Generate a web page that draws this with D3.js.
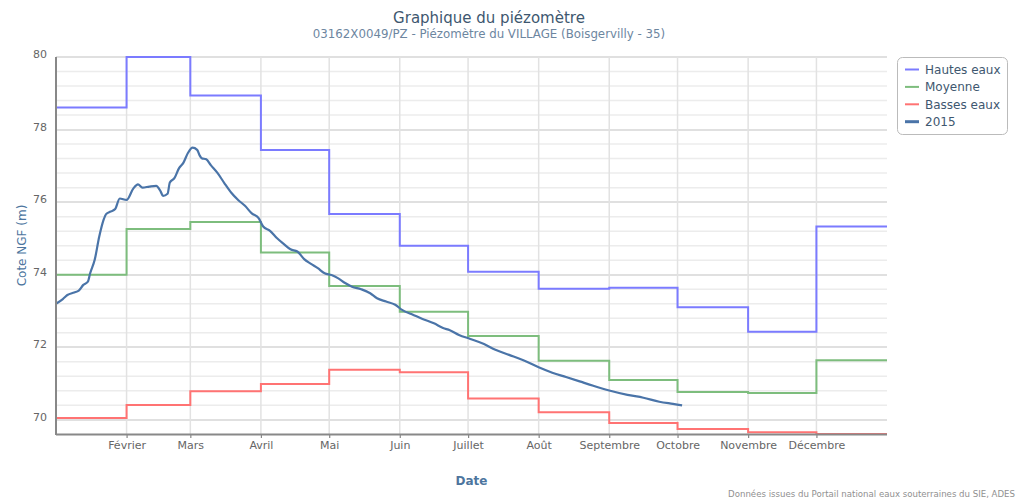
<!DOCTYPE html>
<html><head><meta charset="utf-8">
<script src="https://cdn.jsdelivr.net/npm/d3@7"></script>
<style>body{margin:0;background:#fff;} svg{display:block;font-family:"DejaVu Sans",sans-serif;}</style>
</head><body><svg id="c" width="1017" height="502"></svg>
<script>
// ---- data ----
const monthStarts = ["2015-01-01","2015-02-01","2015-03-01","2015-04-01","2015-05-01","2015-06-01","2015-07-01","2015-08-01","2015-09-01","2015-10-01","2015-11-01","2015-12-01"];
const monthLabels = ["","Février","Mars","Avril","Mai","Juin","Juillet","Août","Septembre","Octobre","Novembre","Décembre"];
const hautesEaux = [78.61,80.0,78.94,77.44,75.67,74.80,74.08,73.61,73.64,73.10,72.43,75.33];
const moyenne    = [74.00,75.26,75.45,74.61,73.69,72.98,72.31,71.63,71.10,70.77,70.74,71.64];
const bassesEaux = [70.05,70.41,70.79,70.99,71.38,71.31,70.59,70.21,69.91,69.75,69.66,69.61];
const dates2015 = ["2015-01-01","2015-01-04","2015-01-06","2015-01-09","2015-01-11","2015-01-13","2015-01-15","2015-01-16","2015-01-18","2015-01-20","2015-01-22","2015-01-23","2015-01-25","2015-01-27","2015-01-29","2015-02-01","2015-02-04","2015-02-06","2015-02-08","2015-02-11","2015-02-14","2015-02-16","2015-02-17","2015-02-19","2015-02-20","2015-02-22","2015-02-24","2015-02-26","2015-02-28","2015-03-02","2015-03-04","2015-03-05","2015-03-06","2015-03-08","2015-03-10","2015-03-13","2015-03-16","2015-03-19","2015-03-22","2015-03-25","2015-03-28","2015-03-31","2015-04-02","2015-04-05","2015-04-08","2015-04-11","2015-04-14","2015-04-17","2015-04-20","2015-04-23","2015-04-26","2015-04-29","2015-05-02","2015-05-05","2015-05-08","2015-05-11","2015-05-15","2015-05-19","2015-05-22","2015-05-26","2015-05-30","2015-06-02","2015-06-07","2015-06-11","2015-06-16","2015-06-20","2015-06-23","2015-06-27","2015-07-02","2015-07-08","2015-07-13","2015-07-19","2015-07-25","2015-08-01","2015-08-07","2015-08-13","2015-08-19","2015-08-25","2015-09-01","2015-09-09","2015-09-16","2015-09-23","2015-09-29","2015-10-03"];
const values2015 = [73.20,73.33,73.44,73.51,73.56,73.72,73.81,74.04,74.41,75.05,75.53,75.67,75.74,75.81,76.10,76.06,76.38,76.49,76.40,76.43,76.45,76.29,76.17,76.23,76.54,76.66,76.93,77.09,77.36,77.50,77.44,77.30,77.21,77.18,77.02,76.80,76.52,76.26,76.06,75.90,75.69,75.56,75.33,75.21,75.01,74.85,74.70,74.64,74.43,74.30,74.18,74.04,73.99,73.90,73.77,73.67,73.60,73.49,73.35,73.26,73.17,73.03,72.89,72.78,72.66,72.53,72.47,72.34,72.23,72.09,71.93,71.79,71.65,71.45,71.30,71.18,71.06,70.94,70.81,70.69,70.61,70.50,70.44,70.40];
const yTicks = [70,72,74,76,78,80];
const seriesNames = ["Hautes eaux","Moyenne","Basses eaux","2015"];

// ---- layout ----
const svg = d3.select("#c");
const L = 56, R = 887, T = 57, B = 434;
const parse = d3.utcParse("%Y-%m-%d");
const x = d3.scaleUtc().domain([parse("2015-01-01"), parse("2016-01-01")]).range([L, R]);
const y = d3.scaleLinear().domain([69.61, 80]).range([B, T]);

// minor grid
const minor = d3.range(70, 80.001, 0.4).filter(v => !yTicks.some(t => Math.abs(t - v) < 1e-6));
svg.append("g").selectAll("line").data(minor).join("line")
  .attr("x1", L).attr("x2", R).attr("y1", d => y(d)).attr("y2", d => y(d))
  .attr("stroke", "#ececec").attr("stroke-width", 1.5);
// major grid
svg.append("g").selectAll("line").data(yTicks).join("line")
  .attr("x1", L).attr("x2", R).attr("y1", d => Math.round(y(d))).attr("y2", d => Math.round(y(d)))
  .attr("stroke", "#d6d6d6").attr("stroke-width", 1.5);
// vertical grid
const mDates = monthStarts.map(parse);
svg.append("g").selectAll("line").data(mDates.slice(1)).join("line")
  .attr("x1", d => x(d)).attr("x2", d => x(d)).attr("y1", T).attr("y2", B)
  .attr("stroke", "#e2e2e2").attr("stroke-width", 1.5);

// y labels
svg.append("g").selectAll("text").data(yTicks).join("text")
  .attr("x", 47).attr("y", d => y(d) + 1).attr("text-anchor", "end")
  .attr("fill", "#666").attr("font-size", 11).text(d => d);

// step series
const stepLine = d3.line().x(d => x(d.date)).y(d => y(d.v)).curve(d3.curveStepAfter);
function stepData(vals) {
  const pts = vals.map((v, i) => ({date: mDates[i], v}));
  pts.push({date: parse("2016-01-01"), v: vals[vals.length - 1]});
  return pts;
}
const stepSeries = [
  {vals: hautesEaux, color: "#7b7bff"},
  {vals: moyenne, color: "#7dbd7d"},
  {vals: bassesEaux, color: "#ff7373"}
];
stepSeries.forEach(s => {
  svg.append("path").attr("d", stepLine(stepData(s.vals)))
    .attr("fill", "none").attr("stroke", s.color).attr("stroke-width", 2);
});

// 2015 line
const line2015 = d3.line().x((d, i) => x(parse(dates2015[i]))).y(d => y(d)).curve(d3.curveMonotoneX);
svg.append("path").attr("d", line2015(values2015))
  .attr("fill", "none").attr("stroke", "#4a74a8").attr("stroke-width", 2.2);

// x axis via d3
const xAxis = d3.axisBottom(x).tickValues(mDates.slice(1)).tickSize(4).tickPadding(3)
  .tickFormat((d, i) => monthLabels[i + 1]);
const gx = svg.append("g").attr("transform", `translate(0,${B})`).call(xAxis);
gx.select(".domain").remove();
gx.selectAll(".tick line").attr("stroke", "#888").attr("stroke-width", 1.2);
gx.selectAll(".tick text").attr("fill", "#666").attr("font-size", 11).attr("font-family", "DejaVu Sans");

// axis lines (on top of series)
svg.append("line").attr("x1", L).attr("x2", R).attr("y1", B + 0.5).attr("y2", B + 0.5).attr("stroke", "#888").attr("stroke-width", 2);
svg.append("line").attr("x1", L).attr("x2", L).attr("y1", T).attr("y2", B + 1).attr("stroke", "#888").attr("stroke-width", 2);

// titles
svg.append("text").attr("x", 489).attr("y", 23).attr("text-anchor", "middle")
  .attr("fill", "#3e576f").attr("font-size", 15).text("Graphique du piézomètre");
svg.append("text").attr("x", 489).attr("y", 38).attr("text-anchor", "middle")
  .attr("fill", "#6d869f").attr("font-size", 11.8).text("03162X0049/PZ - Piézomètre du VILLAGE (Boisgervilly - 35)");
svg.append("text").attr("transform", `translate(26,${(T + B) / 2}) rotate(-90)`).attr("text-anchor", "middle")
  .attr("fill", "#4d759e").attr("font-size", 12).text("Cote NGF (m)");
svg.append("text").attr("x", (L + R) / 2).attr("y", 485).attr("text-anchor", "middle")
  .attr("fill", "#4d759e").attr("font-size", 12).attr("font-weight", "bold").text("Date");
svg.append("text").attr("x", 1015).attr("y", 497).attr("text-anchor", "end")
  .attr("fill", "#909090").attr("font-size", 8.6).text("Données issues du Portail national eaux souterraines du SIE, ADES");

// legend
const lg = svg.append("g");
lg.append("rect").attr("x", 897.5).attr("y", 57.5).attr("width", 110).attr("height", 77).attr("rx", 5)
  .attr("fill", "#fff").attr("stroke", "#bbb").attr("stroke-width", 1);
const legColors = ["#7b7bff", "#7dbd7d", "#ff7373", "#4a74a8"];
const legW = [2, 2, 2, 3];
seriesNames.forEach((n, i) => {
  const cy = 69.5 + i * 17.4;
  lg.append("line").attr("x1", 905).attr("x2", 919).attr("y1", cy).attr("y2", cy)
    .attr("stroke", legColors[i]).attr("stroke-width", legW[i]);
  lg.append("text").attr("x", 925).attr("y", cy + 4.5).attr("fill", "#3e576f").attr("font-size", 12).text(n);
});
</script></body></html>
